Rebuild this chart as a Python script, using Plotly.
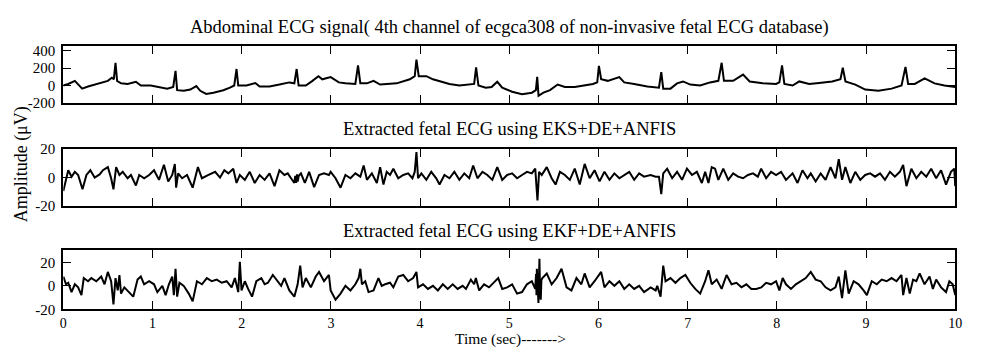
import plotly.graph_objects as go

# ---------------- data ----------------
abd_t = [0.000, 0.055, 0.129, 0.166, 0.211, 0.277, 0.351, 0.425, 0.499, 0.544, 0.566, 0.585, 0.603, 0.647,
         0.721, 0.814, 0.869, 0.980, 1.054, 1.165, 1.232, 1.258, 1.276, 1.350, 1.424, 1.491, 1.535, 1.602,
         1.683, 1.794, 1.868, 1.916, 1.942, 1.961, 2.053, 2.153, 2.201, 2.312, 2.423, 2.534, 2.590, 2.616,
         2.638, 2.719, 2.793, 2.860, 2.904, 2.997, 3.089, 3.163, 3.274, 3.304, 3.330, 3.404, 3.478, 3.552,
         3.737, 3.885, 3.940, 3.959, 3.985, 4.070, 4.144, 4.218, 4.329, 4.440, 4.551, 4.606, 4.628, 4.654,
         4.736, 4.802, 4.865, 4.921, 5.032, 5.143, 5.254, 5.298, 5.313, 5.328, 5.383, 5.457, 5.542, 5.623,
         5.734, 5.845, 5.938, 5.986, 6.005, 6.030, 6.104, 6.233, 6.289, 6.400, 6.548, 6.678, 6.704, 6.726,
         6.807, 6.881, 6.948, 7.029, 7.140, 7.251, 7.344, 7.381, 7.407, 7.474, 7.510, 7.621, 7.695, 7.843,
         7.991, 8.028, 8.058, 8.084, 8.177, 8.251, 8.362, 8.473, 8.621, 8.713, 8.739, 8.769, 8.880, 8.991,
         9.139, 9.287, 9.398, 9.442, 9.472, 9.546, 9.657, 9.768, 9.879, 10.000]
abd_v = [0, 18, 54, 18, -36, -11, 11, 36, 54, 90, 72, 263, 54, 25,
         18, 43, 0, 0, -18, -36, -18, 169, -54, -61, -47, -7, -61, -97,
         -83, -54, -25, 0, 191, 0, 0, 29, -11, -11, 11, 36, 25, 191,
         0, 0, 54, 108, 72, 97, 36, 25, 18, 234, 25, 25, 54, 11,
         25, 72, 108, 299, 108, 108, 72, 54, 18, 0, 11, 18, 209, 0,
         -25, -18, 43, -25, -72, -101, -83, -54, 101, -119, -83, -54, 11, -18,
         -18, 0, 18, 36, 227, 72, 54, 97, 36, 18, -11, -25, 155, -36,
         -36, 25, 47, 11, 0, 36, 54, 263, 54, 54, 54, 126, 47, 25,
         18, 36, 234, 18, 0, 47, 18, 29, 47, 72, 205, 47, 11, -47,
         -61, -36, 0, 216, 18, 18, 83, 25, 0, -18]

eks_t = [0.000, 0.055, 0.092, 0.129, 0.166, 0.215, 0.259, 0.303, 0.351, 0.407, 0.444, 0.499, 0.536, 0.562,
         0.592, 0.629, 0.666, 0.721, 0.758, 0.814, 0.851, 0.906, 0.962, 1.017, 1.073, 1.128, 1.176, 1.221,
         1.250, 1.265, 1.287, 1.332, 1.387, 1.450, 1.509, 1.554, 1.628, 1.702, 1.757, 1.805, 1.850, 1.905,
         1.942, 1.979, 2.035, 2.090, 2.146, 2.201, 2.257, 2.312, 2.368, 2.423, 2.479, 2.516, 2.553, 2.590,
         2.600, 2.610, 2.620, 2.627, 2.640, 2.664, 2.708, 2.756, 2.812, 2.867, 2.923, 2.978,
         2.997, 3.052, 3.108, 3.163, 3.219, 3.274, 3.330, 3.367, 3.404, 3.459, 3.515, 3.552, 3.589, 3.626,
         3.663, 3.700, 3.755, 3.811, 3.866, 3.914, 3.940, 3.959, 3.977, 4.014, 4.070, 4.125, 4.181, 4.218,
         4.273, 4.329, 4.384, 4.440, 4.495, 4.551, 4.595, 4.643, 4.699, 4.754, 4.810, 4.865, 4.921, 4.976,
         5.032, 5.087, 5.143, 5.198, 5.253, 5.291, 5.316, 5.334, 5.364, 5.420, 5.475, 5.519, 5.568, 5.623,
         5.679, 5.734, 5.790, 5.845, 5.901, 5.956, 6.012, 6.067, 6.123, 6.178, 6.234, 6.289, 6.345, 6.400,
         6.456, 6.511, 6.585, 6.641,
         6.678, 6.704, 6.726, 6.770, 6.826, 6.881, 6.937, 6.992, 7.048, 7.103, 7.159, 7.196, 7.233, 7.270,
         7.307, 7.344, 7.399, 7.455, 7.510, 7.565, 7.621, 7.676, 7.732, 7.787, 7.824, 7.880, 7.935, 7.991,
         8.047, 8.102, 8.176, 8.232, 8.287, 8.343, 8.380, 8.435, 8.491, 8.546, 8.602, 8.657, 8.694, 8.731,
         8.768, 8.824, 8.879, 8.935, 8.990, 9.046, 9.101, 9.157, 9.212, 9.268, 9.323, 9.379, 9.416, 9.453,
         9.508, 9.564, 9.619, 9.675, 9.730, 9.786, 9.841, 9.897, 9.952, 9.989, 10.000]
eks_v = [-9.6, 4.9, 0.4, 3.8, 1.6, -8.4, 1.6, 4.9, -0.2, 2.0, 4.9, 7.1, -0.7, -8.4,
         7.1, 1.6, 3.8, -0.7, 1.6, -5.8, 1.6, -0.7, 1.6, 4.9, -1.8, 8.7, -2.9, 1.6,
         9.3, -7.3, 2.7, -0.7, 1.6, -7.3, 7.1, -0.7, 1.6, 3.8, -0.2, 4.9, 2.7, 6.0,
         -4.0, 1.6, -1.8, 3.8, -4.0, 1.6, -1.8, 2.7, -6.2, 4.9, 1.6, 2.7, -0.7, -4.0,
         1.0, -4.0, 2.0, -3.0, 1.0, 2.7, -4.0, 3.8, -6.9, 1.6, 2.7, 1.6,
         3.8, -0.7, -7.3, 1.6, -0.7, 2.7, 0.4, 8.2, -1.8, 2.7, -4.0, 7.1, -5.1, 3.8,
         1.6, 6.0, -0.7, 1.6, 2.7, -0.7, 3.8, 17.6, -0.7, 2.7, -1.8, 3.8, -0.7, -5.1,
         1.6, -0.7, 3.8, -1.8, 2.7, -0.7, 8.2, -0.7, 3.8, 1.6, -1.8, 7.1, -1.8, 1.6,
         2.7, -0.7, 1.6, 3.8, 2.7, 6.0, -16.2, 3.8, 1.6, 7.1, -0.7, -5.1, 3.8, 1.6,
         -1.8, 6.0, -5.1, 9.3, -0.7, 4.9, -2.9, 3.8, -1.8, 2.7, -0.7, 1.6, 3.8, -1.8,
         2.7, 0.4, 1.6, 0.4,
         0.4, -11.8, 2.7, 6.0, -0.7, 3.8, -1.8, 6.0, 1.6, 3.8, -4.0, 3.8, -4.0, 7.1,
         6.0, -1.8, 6.0, -1.8, 2.7, 0.4, -0.7, 1.6, 2.7, 0.4, 6.0, -0.7, 3.8, 1.6,
         3.8, -1.8, 2.7, -4.0, 4.9, -0.7, 2.7, -2.9, 2.7, -1.8, 7.1, -0.7, 12.7, -1.8,
         7.1, -4.0, 3.8, -1.8, 1.6, 2.7, 0.4, 2.7, -1.8, 3.8, 0.4, 3.8, 8.7, -6.2,
         6.0, -0.7, 3.8, 0.4, 6.0, -0.7, 4.9, -5.1, 3.8, 6.0, -6.2]

ekf_t = [0.000, 0.030, 0.055, 0.092, 0.129, 0.166, 0.203, 0.229, 0.277, 0.314, 0.370, 0.425, 0.462, 0.499,
         0.536, 0.562, 0.585, 0.610, 0.629, 0.647, 0.684, 0.740, 0.784, 0.832, 0.869, 0.906, 0.962, 1.017,
         1.054, 1.110, 1.147, 1.184, 1.221, 1.239, 1.258, 1.276, 1.302, 1.350, 1.406, 1.450, 1.498, 1.554,
         1.609, 1.665, 1.720, 1.776, 1.831, 1.887, 1.924, 1.961, 1.979, 1.998, 2.035, 2.072, 2.116, 2.164,
         2.220, 2.257, 2.294, 2.349, 2.405, 2.442, 2.479, 2.534, 2.590, 2.627, 2.656, 2.682, 2.719, 2.775,
         2.830, 2.867, 2.923, 2.978,
         2.997, 3.052, 3.108, 3.163, 3.219, 3.274, 3.311, 3.330, 3.348, 3.385, 3.422, 3.478, 3.533, 3.570,
         3.607, 3.663, 3.700, 3.755, 3.811, 3.866, 3.922, 3.959, 3.977, 4.033, 4.088, 4.144, 4.199, 4.255,
         4.310, 4.366, 4.421, 4.477, 4.514, 4.569, 4.606, 4.625, 4.662, 4.717, 4.773, 4.828, 4.876, 4.921,
         4.976, 5.032, 5.087, 5.143, 5.198, 5.253, 5.291, 5.300, 5.305, 5.309, 5.318, 5.327, 5.333, 5.338,
         5.345, 5.353, 5.360, 5.371, 5.420, 5.475, 5.531, 5.586, 5.642, 5.697, 5.753, 5.808, 5.845, 5.901,
         5.956, 6.030, 6.067, 6.123, 6.178, 6.234, 6.289, 6.345, 6.400, 6.456, 6.511, 6.585, 6.641,
         6.659, 6.696, 6.726, 6.752, 6.807, 6.863, 6.918, 6.974, 7.029, 7.085, 7.140, 7.196, 7.233, 7.270,
         7.325, 7.381, 7.436, 7.492, 7.547, 7.603, 7.658, 7.714, 7.769, 7.825, 7.880, 7.935, 7.991, 8.028,
         8.065, 8.102, 8.158, 8.213, 8.269, 8.324, 8.380, 8.435, 8.491, 8.546, 8.602, 8.657, 8.694, 8.731,
         8.768, 8.805, 8.861, 8.916, 8.972, 9.009, 9.064, 9.120, 9.175, 9.231, 9.286, 9.342, 9.397, 9.416,
         9.453, 9.490, 9.527, 9.564, 9.601, 9.656, 9.712, 9.749, 9.786, 9.841, 9.897, 9.934, 9.971, 10.000]
ekf_v = [7.9, 1.3, 2.6, -5.3, 1.3, -1.3, -7.9, 6.6, 3.9, 6.6, 3.9, 7.9, 1.3, 11.8,
         3.9, -15.8, 6.6, -3.9, 9.2, -6.6, -1.3, -5.3, -9.2, 5.3, 7.9, 1.3, 3.9, 1.3,
         -5.3, 0.0, -7.9, 1.3, 7.9, -7.9, 14.5, -9.2, 2.6, 0.0, -6.6, -13.2, 3.9, 1.3,
         6.6, 3.9, 5.3, 2.6, 3.9, -1.3, 6.6, -5.3, 20.3, -3.9, 3.9, -2.6, -9.2, 3.9,
         6.6, 1.3, 2.6, 9.2, 3.9, 0.0, 6.6, -3.9, -9.2, 1.3, 17.1, -1.3, 6.6, -1.3,
         7.9, 11.8, 3.9, 9.2,
         -3.9, -11.8, -6.6, 0.0, -3.9, 1.3, 6.6, 14.5, 1.3, 3.9, -5.3, -3.9, 6.6, 0.0,
         1.3, 2.6, -1.3, 7.9, 9.2, 3.9, 6.6, 11.8, -1.3, 1.3, -2.6, 0.0, -3.9, 1.3,
         -2.6, 1.3, -2.6, 0.0, -2.6, 5.3, 1.3, 6.6, -3.9, 1.3, -1.3, 2.6, 6.6, -2.6,
         -1.3, 1.3, -6.6, -5.3, 1.3, 3.9, -2.6, 10.0, -8.0, 14.5, -10.0, -14.5, 8.0, 22.9,
         -6.0, -11.8, 5.0, 6.6, 10.5, 1.3, 6.6, 14.5, -1.3, -3.9, 6.6, 1.3, 10.5, -1.3,
         3.9, 11.8, -1.3, 3.9, 0.0, 3.9, -2.6, 1.3, -2.6, 0.0, -5.3, -1.3, -3.9,
         0.0, -9.2, 17.1, 3.9, 6.6, 2.6, 6.6, 9.2, 2.6, -2.6, -6.6, 3.9, 13.2, 1.3,
         5.3, -2.6, 9.2, 1.3, 2.6, -1.3, 1.3, -2.6, -2.6, -1.3, 2.6, 1.3, 3.9, -3.9,
         6.6, 1.3, -2.6, 1.3, 3.9, 6.6, 11.8, 5.3, 3.9, -1.3, -3.9, -1.3, 7.9, -10.5,
         13.2, -6.6, 3.9, 1.3, -3.9, -7.9, 3.9, 1.3, 5.3, 3.9, 6.6, 3.9, 9.2, -7.9,
         6.6, -6.6, 5.3, 3.9, 10.5, 1.3, 7.9, -2.6, 5.3, -1.3, -5.3, 3.9, 1.3, -7.9]

x_ticks = [0, 1, 2, 3, 4, 5, 6, 7, 8, 9, 10]
y1_ticks = [-200, 0, 200, 400]
y23_ticks = [-20, 0, 20]

titles = ["Abdominal ECG signal( 4th channel of ecgca308 of non-invasive fetal ECG database)",
          "Extracted fetal ECG using EKS+DE+ANFIS",
          "Extracted fetal ECG using EKF+DE+ANFIS"]
x_title = "Time (sec)------->"
y_title = "Amplitude (\u03bcV)"

# ---------------- figure ----------------
W, H = 984, 353
FONT = "Liberation Serif, Times New Roman, serif"

fig = go.Figure()
for i, (t, v) in enumerate([(abd_t, abd_v), (eks_t, eks_v), (ekf_t, ekf_v)]):
    sfx = "" if i == 0 else str(i + 1)
    fig.add_trace(go.Scatter(x=t, y=v, mode="lines", line=dict(color="black", width=2),
                             xaxis="x" + sfx, yaxis="y" + sfx, showlegend=False,
                             hoverinfo="skip"))

x0, x1 = 60 / W, 962 / W
doms = [(99.3, 40.0), (207.3, 147.3), (315.7, 254.0)]
yranges = [[-200, 455], [-20, 20], [-20, 30]]
ytv = [y1_ticks, y23_ticks, y23_ticks]

layout = dict(width=W, height=H, margin=dict(l=0, r=0, t=0, b=0),
              paper_bgcolor="white", plot_bgcolor="white",
              font=dict(family=FONT, size=15, color="black"))

for i in range(3):
    sfx = "" if i == 0 else str(i + 1)
    bot, top = doms[i]
    layout["xaxis" + sfx] = dict(
        domain=[x0, x1], range=[0, 10], anchor="y" + sfx,
        tickmode="array", tickvals=x_ticks,
        ticktext=[str(v) for v in x_ticks], showticklabels=(i == 2),
        ticks="inside", ticklen=8, tickwidth=1, tickcolor="black",
        ticklabelstandoff=0,
        showline=True, linecolor="black", linewidth=2, mirror="ticks",
        showgrid=False, zeroline=False,
        tickfont=dict(family=FONT, size=14, color="black"))
    layout["yaxis" + sfx] = dict(
        domain=[1 - bot / H, 1 - top / H], range=yranges[i], anchor="x" + sfx,
        tickmode="array", tickvals=ytv[i], ticktext=[str(v) for v in ytv[i]],
        ticks="inside", ticklen=8, tickwidth=1, tickcolor="black",
        ticklabelstandoff=3,
        showline=True, linecolor="black", linewidth=2, mirror="ticks",
        showgrid=False, zeroline=False,
        tickfont=dict(family=FONT, size=15, color="black"))

title_y = [20, 127, 234]
ann = []
for txt, py in zip(titles, title_y):
    ann.append(dict(text=txt, x=(x0 + x1) / 2, y=1 - py / H, xref="paper", yref="paper",
                    showarrow=False, xanchor="center", yanchor="middle",
                    font=dict(family=FONT, size=18.5, color="black")))
ann.append(dict(text=x_title, x=512 / W, y=0, xref="paper", yref="paper",
                showarrow=False, xanchor="center", yanchor="bottom", yshift=-3,
                borderpad=0, borderwidth=0,
                font=dict(family=FONT, size=15.5, color="black")))
ann.append(dict(text=y_title, x=18 / W, y=1 - 164 / H, xref="paper", yref="paper",
                showarrow=False, textangle=-90, xanchor="center", yanchor="middle",
                font=dict(family=FONT, size=18, color="black")))
layout["annotations"] = ann

fig.update_layout(**layout)
fig.write_html("out.html")
